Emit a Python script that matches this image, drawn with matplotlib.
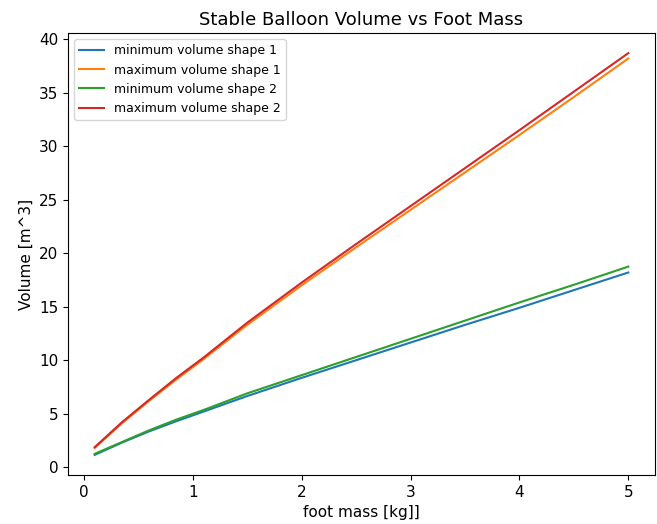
import matplotlib
matplotlib.use("Agg")
import matplotlib.pyplot as plt

# foot mass [kg]
foot_mass = [0.1, 0.35, 0.6, 0.85, 1.1, 1.5, 2.0, 2.5, 3.0, 3.5, 4.0, 4.5, 5.0]

# volumes [m^3]
min_shape1 = [1.15, 2.3, 3.35, 4.3, 5.2, 6.65, 8.35, 10.0, 11.65, 13.3, 14.9, 16.55, 18.2]
max_shape1 = [1.8, 4.1, 6.2, 8.2, 10.1, 13.3, 17.0, 20.55, 24.05, 27.55, 31.05, 34.6, 38.2]
min_shape2 = [1.25, 2.35, 3.45, 4.45, 5.35, 6.9, 8.6, 10.3, 12.0, 13.7, 15.4, 17.05, 18.75]
max_shape2 = [1.87, 4.2, 6.3, 8.35, 10.25, 13.5, 17.25, 20.85, 24.4, 27.95, 31.5, 35.1, 38.7]

fig = plt.figure(figsize=(6.57, 5.24), dpi=100)
ax = fig.add_axes([0.1035, 0.0935, 0.8935, 0.8435])

ax.plot(foot_mass, min_shape1, label="minimum volume shape 1")
ax.plot(foot_mass, max_shape1, label="maximum volume shape 1")
ax.plot(foot_mass, min_shape2, label="minimum volume shape 2")
ax.plot(foot_mass, max_shape2, label="maximum volume shape 2")

ax.set_title("Stable Balloon Volume vs Foot Mass", fontsize=13)
ax.set_xlabel("foot mass [kg]]", fontsize=11)
ax.set_ylabel("Volume [m^3]", fontsize=11)
ax.tick_params(labelsize=11)
ax.legend(loc="upper left", fontsize=9)

fig.savefig("out.png", dpi=100)
